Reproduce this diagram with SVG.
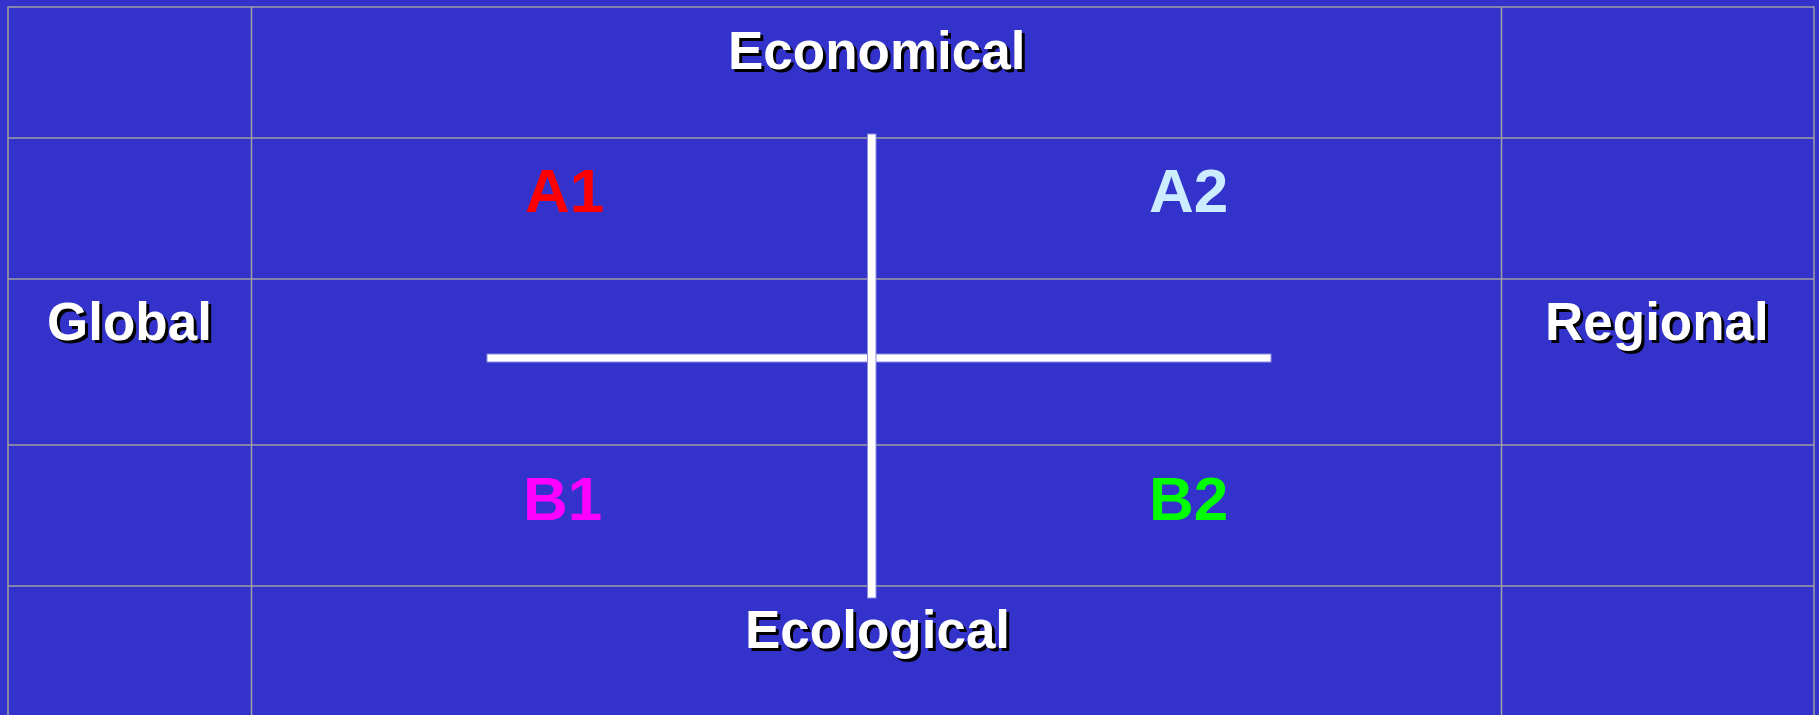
<svg xmlns="http://www.w3.org/2000/svg" width="1819" height="715" viewBox="0 0 1819 715">
<style>
.grid{stroke:#a0a0a0;stroke-width:1.5;fill:none}
.lbl{font-family:"Liberation Sans",Arial,sans-serif;font-weight:bold;font-size:53px}
.sh{fill:#000}
.fg{fill:#fff}
.q{font-family:"Liberation Sans",Arial,sans-serif;font-weight:bold;font-size:62px}
.axis{fill:#fff;stroke:#8c8ce0;stroke-width:1}
</style>
<rect x="0" y="0" width="1819" height="715" fill="#3333CC"/>
<g id="grid">
<rect class="grid" x="8" y="7" width="1806" height="720" stroke-width="2.5"/>
<line class="grid" x1="251.5" y1="7" x2="251.5" y2="715"/>
<line class="grid" x1="1501.5" y1="7" x2="1501.5" y2="715"/>
<line class="grid" x1="8" y1="138" x2="1814" y2="138"/>
<line class="grid" x1="8" y1="279" x2="1814" y2="279"/>
<line class="grid" x1="8" y1="445" x2="1814" y2="445"/>
<line class="grid" x1="8" y1="586" x2="1814" y2="586"/>
</g>
<g id="connectors">
<rect class="axis" x="487" y="354" width="784" height="8"/>
<rect class="axis" x="867.5" y="134" width="8.5" height="464"/>
</g>
<g id="economical">
<text class="lbl sh" x="731" y="72">Economical</text>
<text class="lbl fg" x="728" y="69">Economical</text>
</g>
<g id="ecological">
<text class="lbl sh" x="748" y="651">Ecological</text>
<text class="lbl fg" x="745" y="648">Ecological</text>
</g>
<g id="global">
<text class="lbl sh" x="50" y="343">Global</text>
<text class="lbl fg" x="47" y="340">Global</text>
</g>
<g id="regional">
<text class="lbl sh" x="1548" y="343">Regional</text>
<text class="lbl fg" x="1545" y="340">Regional</text>
</g>
<g id="A1"><text class="q" x="525" y="212" fill="#FF0000">A1</text></g>
<g id="A2"><text class="q" x="1149" y="212" fill="#CCECFF">A2</text></g>
<g id="B1"><text class="q" x="523" y="520" fill="#FF00FF">B1</text></g>
<g id="B2"><text class="q" x="1149" y="520" fill="#00FF00">B2</text></g>
</svg>
